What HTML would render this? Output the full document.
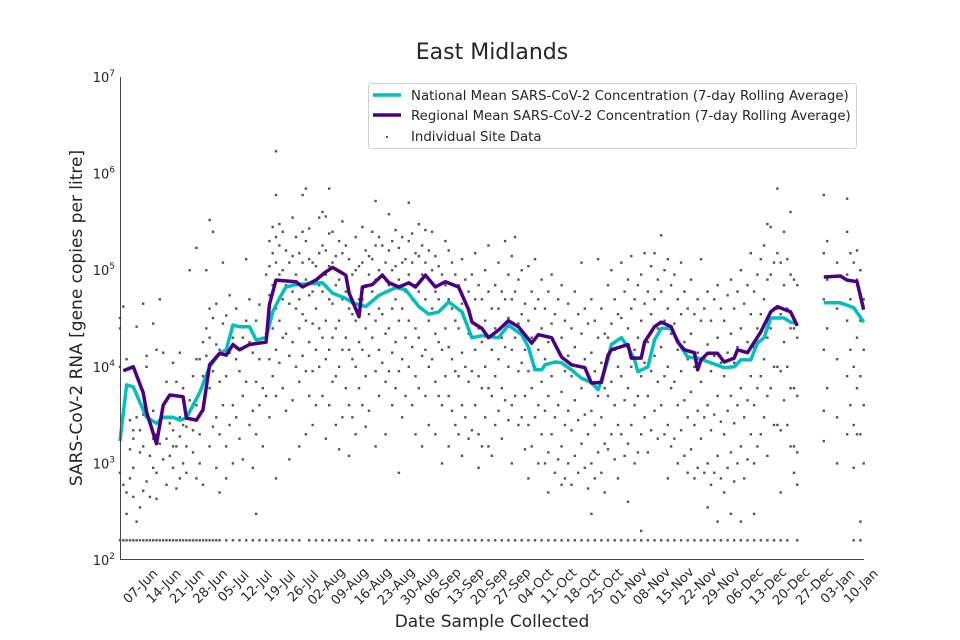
<!DOCTYPE html>
<html><head><meta charset="utf-8"><style>
html,body{margin:0;padding:0;background:#fff;}
svg{display:block;font-family:"DejaVu Sans","Liberation Sans",sans-serif;}
</style></head><body>
<svg id="chart" width="960" height="640" viewBox="0 0 960 640">
<rect width="960" height="640" fill="#fff"/>
<text x="492" y="59" font-size="22" fill="#262626" text-anchor="middle">East Midlands</text>
<g id="scatter"></g>
<g id="lines"></g>
<line x1="120.5" y1="77" x2="120.5" y2="560" stroke="#444" stroke-width="1"/>
<line x1="120" y1="559.5" x2="864" y2="559.5" stroke="#444" stroke-width="1"/>
<g id="yticks"></g>
<g id="xticks"></g>
<text transform="translate(82,318) rotate(-90)" font-size="17" fill="#262626" text-anchor="middle">SARS-CoV-2 RNA [gene copies per litre]</text>
<text x="492" y="627" font-size="17" fill="#262626" text-anchor="middle">Date Sample Collected</text>
<g>
<rect x="368.5" y="83.5" width="488" height="65" rx="3" fill="#fff" fill-opacity="0.85" stroke="#d0d0d0"/>
<line x1="373" y1="95" x2="401" y2="95" stroke="#00bfbf" stroke-width="3.5"/>
<text x="411" y="100" font-size="13.3" fill="#262626">National Mean SARS-CoV-2 Concentration (7-day Rolling Average)</text>
<line x1="373" y1="115" x2="401" y2="115" stroke="#4b0082" stroke-width="3.5"/>
<text x="411" y="120" font-size="13.3" fill="#262626">Regional Mean SARS-CoV-2 Concentration (7-day Rolling Average)</text>
<rect x="386" y="136" width="2" height="2" fill="#555"/>
<text x="411" y="141" font-size="13.3" fill="#262626">Individual Site Data</text>
</g>
</svg>
<script>
// day index 0 = 31-May
const xTickLabels = ["07-Jun","14-Jun","21-Jun","28-Jun","05-Jul","12-Jul","19-Jul","26-Jul","02-Aug","09-Aug","16-Aug","23-Aug","30-Aug","06-Sep","13-Sep","20-Sep","27-Sep","04-Oct","11-Oct","18-Oct","25-Oct","01-Nov","08-Nov","15-Nov","22-Nov","29-Nov","06-Dec","13-Dec","20-Dec","27-Dec","03-Jan","10-Jan"];
const yTickExps = [2,3,4,5,6,7];
const regionalDays = [1,4,7,8,11,13,15,19,20,23,25,27,30,32,34,36,39,44,45,47,53,55,59,62,64,68,69,72,73,76,79,81,84,87,89,92,95,98,102,105,106,109,111,114,117,120,124,126,130,133,136,140,142,145,147,148,153,154,157,158,161,163,166,168,170,173,174,175,177,180,182,185,186,189,193,196,198,202,204,208,212,217,219,222,224];
const regionalVals = [9100,10000,5400,3400,1600,4000,5100,4900,2950,2800,3600,10500,13800,13200,17000,15000,17000,18000,44000,79000,76000,67000,79000,96000,107000,89000,58000,33000,67000,71000,89000,74000,67000,74000,67000,89000,67000,76000,67000,39000,29000,25000,20000,24000,30000,26000,17600,21500,20000,12600,10500,9800,6800,6900,13200,15000,17000,12300,12300,18000,26000,29000,26000,18000,15000,14000,9300,11800,13800,13800,11200,12300,15000,14000,23000,37000,42000,37000,26500,null,85000,87000,79000,76000,39000];
const nationalDays = [0,2,4,6,8,11,13,16,18,20,22,24,27,30,32,34,36,39,41,44,46,48,50,53,61,64,68,70,74,78,83,86,90,93,96,99,103,106,109,114,117,121,123,125,127,128,131,133,136,139,142,144,147,148,151,153,155,156,159,161,163,166,169,171,174,178,182,185,187,190,192,194,196,200,202,204,208,212,217,221,224];
const nationalVals = [1700,6500,6200,4300,3000,2600,3000,3000,2800,2950,4000,5400,10000,13800,15000,27000,26000,26000,19000,20000,37000,51000,67000,71000,74000,58000,51000,46000,42000,55000,66000,63000,42000,35000,37000,47000,37000,20000,21000,20000,27000,21500,16000,9300,9300,10500,11200,11000,9300,7600,6900,5800,11800,17000,20000,16000,11800,8900,10000,19000,25000,25000,16000,12600,12300,11000,9800,10000,11800,11800,17600,20000,32000,32000,29000,28000,null,46000,46000,41000,29000];
const siteData = [[0,3.2e4,2.5e4,800,1e4],[1,4.2e4,600],[2,1.2e4,300,500],[3,2.8e3,1.4e3,700],[4,1.8e3,450,900,2.2e3],[5,2.6e4,250,3e3],[6,2.2e3,350,1.3e3],[7,1.5e3,520,3.2e3,4.5e4],[8,1.3e4,1e4,650],[9,2.7e3,1.2e3,450],[10,2.8e4,1.8e3,900,3.5e3],[11,1.5e4,800,2e3,430],[12,5e4,1.6e3,2.5e3],[13,1.4e4,3e3,1.1e3],[14,4.5e3,1.8e3,600,7e3],[15,2.6e3,1.2e3,5e3],[16,1.1e4,2.2e3,900,1.5e3],[17,7e3,1.5e3,550],[18,3e3,1.9e3,1.4e4,700],[19,6e3,1e3,2.5e3],[20,2.4e3,1.5e3,800],[21,1e5,4.5e3,3.5e3],[22,8e3,2.2e3,1.3e3],[23,1.7e5,1.2e4,700,4e3],[24,1.2e4,2e3,1e3],[25,1.8e4,3.5e3,8e3,600],[26,1e5,2.5e4,1.3e4],[27,3.3e5,4e4,2e4,6e3,1.5e3],[28,2.5e5,3.2e4,9e3,2.4e3],[29,4.5e4,1.7e4,3e3,900],[30,1.5e4,7e3,2e3,500],[31,1.2e5,2.8e4,4e3],[32,3.4e4,8e3,1.5e3,700],[33,5.5e4,1.4e4,2.5e3],[34,2e4,4e3,1e3],[35,4e4,1.2e4,3e3],[36,2.6e4,9e3,1.8e3],[37,2e4,5e3,1.1e3],[38,1.3e5,3e4,7e3],[39,5e4,1.8e4,2.5e3],[40,1.4e4,3.5e3,900],[41,3e4,7e3,2e3,300],[42,4.4e4,1.2e4,4e3],[43,2e4,6e3,1.5e3],[44,9e4,2.2e4,5e3],[45,2e5,1.1e5,5.5e4,3e4,1.2e4,3e3],[46,2.8e5,1.5e5,7e4,2.5e4,8e3],[47,1.7e6,6e5,2.2e5,1.2e5,4e4,1.5e4,5e3,700],[48,3e5,1.8e5,9e4,3e4,1.1e4],[49,2.5e5,1e5,5e4,2e4,6e3],[50,1.6e5,7e4,2.2e4,3.5e3],[51,1.2e5,4.5e4,1.3e4,1.1e3],[52,3.5e5,1.4e5,6e4,1.8e4,4.5e3],[53,2.2e5,9e4,4e4,1e4],[54,1.5e5,5e4,2.5e4,7e3,1.5e3],[55,6e5,2.5e5,1.2e5,3.5e4,1.3e4],[56,7e5,2e5,8e4,3e4,9e3,2e3],[57,2.7e5,1.3e5,5.5e4,1.8e4,5e3],[58,1.2e5,6e4,2.8e4,9e3,2.5e3],[59,1.1e5,4e4,1.5e4,4e3],[60,3.5e5,1.5e5,7e4,2.5e4,1e4],[61,4e5,1.8e5,6e4,2e4,5e3],[62,3.6e5,1.6e5,9e4,3e4,1.2e4,1.8e3],[63,7e5,2.4e5,1.1e5,5e4,1.5e4,4e3],[64,2.5e5,1.2e5,4.5e4,2e4,7e3],[65,1.4e5,7e4,2.5e4,8e3,2.5e3],[66,2e5,8e4,3e4,1e4,1.4e3],[67,3.2e5,1.5e5,5e4,1.5e4,3e3],[68,1.8e5,6e4,2e4,6e3],[69,1.3e5,4e4,1.5e4,4e3,1.2e3],[70,9e4,3.5e4,1.2e4,3e3],[71,2.2e5,1e5,3e4,1e4,2e3],[72,1.1e5,5e4,1.8e4,6e3],[73,2.8e5,1.2e5,5e4,1.5e4,4e3],[74,1.6e5,7e4,2.5e4,8e3,2.4e3],[75,1.4e5,9e4,3.5e4,1.3e4,3.5e3],[76,2.5e5,1.3e5,6e4,2e4],[77,5.2e5,1.8e5,8e4,3e4,9e3,1.5e3],[78,2.2e5,1e5,4e4,1.5e4,5e3],[79,1.8e5,9e4,3.5e4,1.1e4],[80,1.2e5,6e4,2.2e4,7e3,2e3],[81,3.8e5,1.6e5,7e4,2.5e4,9e3],[82,2e5,1e5,4e4,1.4e4,4e3],[83,2.6e5,1.1e5,5e4,1.8e4,6e3],[84,1.7e5,8e4,3e4,9e3,800],[85,2.2e5,1.2e5,4e4,1.2e4,3e3],[86,1.3e5,6e4,2e4,5e3],[87,5e5,2e5,9e4,3e4,1e4],[88,2.4e5,1.2e5,5e4,1.6e4,4e3],[89,1.5e5,7e4,2.5e4,8e3,2e3],[90,3e5,1.4e5,6e4,2e4,6e3],[91,1.8e5,9e4,4e4,1.3e4,1.5e3],[92,2.6e5,1.2e5,5e4,1.5e4,5e3],[93,1.6e5,8e4,3e4,1e4,2.5e3],[94,2.5e5,1e5,4e4,1.2e4],[95,1.4e5,6e4,2.2e4,7e3,2e3],[96,1.1e5,5e4,1.8e4,5e3],[97,9e4,4e4,1.5e4,4e3,1e3],[98,2e5,7e4,2.5e4,8e3],[99,1.6e5,5e4,1.6e4,5e3,1.5e3],[100,1.2e5,4e4,1.2e4,3.5e3],[101,9e4,3e4,9e3,2.5e3],[102,7e4,2.5e4,8e3,2e3],[103,1.3e5,4.5e4,1.4e4,4e3,1.2e3],[104,8e4,3e4,1e4,3e3],[105,6e4,2.2e4,7e3,1.8e3],[106,9e4,3e4,9e3,2.2e3],[107,1.5e5,5e4,1.5e4,4e3],[108,7e4,2.5e4,8e3,2e3,900],[109,5e4,1.8e4,6e3,1.5e3],[110,1e5,3e4,1e4,3e3],[111,1.8e5,6e4,2e4,6e3,1.5e3],[112,4e4,1.5e4,5e3,1.2e3],[113,7e4,2.5e4,8e3,2.5e3],[114,1.2e5,4e4,1.2e4,3.5e3],[115,6e4,2e4,6e3,1.8e3],[116,2e5,5e4,1.6e4,4.5e3],[117,9e4,3.2e4,1e4,2.8e3],[118,1.4e5,5e4,1.5e4,4e3,1e3],[119,2.2e5,6e4,2e4,5e3],[120,8e4,2.8e4,9e3,2.5e3],[121,1e5,3.5e4,1.1e4,3e3],[122,4.5e4,1.5e4,5e3,1.4e3],[123,1.1e5,3e4,9e3,2.5e3,700],[124,6e4,2e4,6e3,1.5e3],[125,1.3e5,4e4,1e4,3e3],[126,5e4,1.5e4,4e3,1e3],[127,8e4,2.5e4,7e3,2e3],[128,4e4,1.2e4,3.5e3,1e3],[129,6e4,1.8e4,5e3,1.3e3,500],[130,9e4,2.8e4,8e3,2e3],[131,3.5e4,1.1e4,3e3,800],[132,5e4,1.5e4,4e3,1.1e3],[133,7e4,2e4,5.5e3,1.5e3,600],[134,3e4,9e3,2.5e3,700],[135,4.5e4,1.3e4,3.5e3,1e3],[136,2.5e4,8e3,2.2e3,600],[137,6e4,1.6e4,4.5e3,1.2e3],[138,3.5e4,1e4,2.8e3,800],[139,1.2e5,2.2e4,6e3,1.6e3],[140,4e4,1.2e4,3.2e3,900],[141,2.8e4,8e3,2e3,550],[142,5e4,1.4e4,3.5e3,1e3,300],[143,3e4,9e3,2.5e3,700],[144,1.3e5,2e4,5e3,1.3e3],[145,4e4,1.1e4,3e3,800],[146,2.2e4,6e3,1.6e3,500],[147,7e4,2e4,5e3,1.4e3],[148,1e5,2.8e4,7e3,2e3],[149,5e4,1.5e4,4e3,1.1e3],[150,3.5e4,1e4,2.5e3,700],[151,1.2e5,3.2e4,8e3,2e3],[152,6e4,1.8e4,4.5e3,1.2e3],[153,8e4,2.5e4,6e3,1.6e3,400],[154,1.4e5,4e4,1e4,2.5e3],[155,5e4,1.5e4,4e3,1e3],[156,7e4,2e4,5e3,1.3e3],[157,9e4,3e4,8e3,2e3,200],[158,1.5e5,4.5e4,1.1e4,3e3],[159,6e4,1.8e4,5e3,1.3e3],[160,1.1e5,3.5e4,9e3,2.2e3],[161,1.5e5,5e4,1.3e4,3.5e3],[162,8e4,2.5e4,7e3,1.8e3],[163,2.3e5,6e4,1.6e4,4e3],[164,1e5,3e4,8e3,2e3],[165,1.3e5,4e4,1e4,2.5e3,700],[166,7e4,2.2e4,6e3,1.5e3],[167,9e4,2.8e4,7e3,1.8e3],[168,5e4,1.5e4,4e3,1e3],[169,1.2e5,3.5e4,9e3,2.2e3],[170,6e4,1.8e4,4.5e3,1.2e3],[171,4e4,1.2e4,3e3,800],[172,8e4,2.2e4,5.5e3,1.4e3],[173,3.5e4,1e4,2.5e3,700],[174,5e4,1.4e4,3.5e3,900],[175,1.3e5,3e4,7e3,1.8e3],[176,4e4,1.2e4,3e3,800],[177,6e4,1.7e4,4e3,1e3,350],[178,3e4,9e3,2.2e3,600],[179,5e4,1.3e4,3.2e3,800],[180,7e4,2e4,5e3,1.2e3,250],[181,4e4,1.1e4,2.7e3,700],[182,3e4,8e3,2e3,500],[183,5.5e4,1.4e4,3.5e3,900],[184,8e4,2.2e4,5e3,1.3e3,300],[185,4e4,1.1e4,2.6e3,650],[186,6e4,1.6e4,4e3,1e3],[187,1e5,2.5e4,6e3,1.5e3,250],[188,4.5e4,1.2e4,3e3,700],[189,7e4,1.8e4,4.5e3,1.1e3],[190,1.5e5,3.5e4,8e3,2e3],[191,6e4,1.6e4,4e3,1e3,300],[192,9e4,2.5e4,6e3,1.5e3],[193,1.3e5,3.5e4,8e3,2e3],[194,1.8e5,5e4,1.2e4,3e3],[195,3e5,8e4,2e4,5e3,1.2e3],[196,2.8e5,9e4,2.5e4,6e3],[197,1.2e5,4e4,1e4,2.5e3],[198,7e5,1.5e5,4e4,1e4,2.5e3],[199,1.2e5,3.5e4,9e3,2.2e3,500],[200,2.5e5,7e4,1.8e4,4.5e3],[201,1.3e5,4e4,1e4,2.5e3],[202,4e5,9e4,2.5e4,6e3,1.5e3],[203,8e4,2.5e4,6e3,1.5e3,800],[204,7e4,2e4,5e3,1.3e3,600],[212,6e5,1.5e5,5e4,1.5e4,3.5e3,1.7e3],[213,2e5,8e4,2.5e4,6e3],[216,1.2e5,4e4,1.2e4,3e3,1e3],[219,5.5e5,2.5e5,9e4,3e4,8e3,2e3],[220,1.5e5,5e4,1.5e4,4e3],[221,1.2e5,4e4,1e4,2.5e3,900],[222,1.6e5,8e4,2e4,6e3,2e3],[223,1e5,3e4,8e3,2e3,250],[224,5e4,1.5e4,4e3,1e3]];
const lodDays = [0,1,2,3,4,5,6,7,8,9,10,11,12,13,14,15,16,17,18,19,20,21,22,23,24,25,26,27,28,29,30,32,34,36,38,40,42,44,46,48,50,52,54,57,59,61,63,65,67,69,72,74,76,80,82,84,86,88,90,93,95,97,99,101,103,105,107,109,111,113,115,117,119,121,123,125,127,129,131,133,135,137,139,141,143,145,147,149,151,153,155,157,159,161,163,165,167,169,171,173,175,177,179,181,183,185,187,189,191,193,195,197,199,201,204,221,223];
const lodValue = 160;

const NS = "http://www.w3.org/2000/svg";
const X0 = 120, DAYPX = 3.32, YBASE = 560, DEC = 96.6;
function xScale(d){ return X0 + d*DAYPX; }
function yScale(v){ return YBASE - (Math.log10(v) - 2)*DEC; }

const sg = document.getElementById('scatter');
function dot(d, v){
  const r = document.createElementNS(NS,'rect');
  r.setAttribute('x', (xScale(d)-1.2).toFixed(1));
  r.setAttribute('y', (yScale(v)-1.2).toFixed(1));
  r.setAttribute('width', 2.4); r.setAttribute('height', 2.4);
  r.setAttribute('fill', '#555');
  
  
  sg.appendChild(r);
}
siteData.forEach(row => { for (let i=1;i<row.length;i++) dot(row[0], row[i]); });
lodDays.forEach(d => dot(d, lodValue));

const lg = document.getElementById('lines');
function drawLine(days, vals, color, name){
  let dstr = "", pen = false;
  for (let i=0;i<days.length;i++){
    if (vals[i] === null){ pen = false; continue; }
    dstr += (pen ? "L" : "M") + xScale(days[i]).toFixed(1) + "," + yScale(vals[i]).toFixed(1);
    pen = true;
  }
  const p = document.createElementNS(NS,'path');
  p.setAttribute('d', dstr);
  p.setAttribute('fill','none');
  p.setAttribute('stroke', color);
  p.setAttribute('stroke-width', 3.5);
  p.setAttribute('stroke-linejoin','round');
  
  
  lg.appendChild(p);
}
drawLine(nationalDays, nationalVals, '#00bfbf', 'national-mean-line');
drawLine(regionalDays, regionalVals, '#4b0082', 'regional-mean-line');

const yt = document.getElementById('yticks');
yTickExps.forEach(e => {
  const t = document.createElementNS(NS,'text');
  t.setAttribute('x', 115);
  t.setAttribute('y', (yScale(Math.pow(10,e)) + 5).toFixed(1));
  t.setAttribute('font-size', 13);
  t.setAttribute('fill', '#262626');
  t.setAttribute('text-anchor', 'end');
  
  
  const a = document.createElementNS(NS,'tspan'); a.textContent = '10';
  const b = document.createElementNS(NS,'tspan'); b.textContent = String(e);
  b.setAttribute('font-size', 9); b.setAttribute('dy', -6);
  t.appendChild(a); t.appendChild(b);
  yt.appendChild(t);
});

const xt = document.getElementById('xticks');
xTickLabels.forEach((lab, i) => {
  const x = xScale(7 + 7*i) - 3;
  const t = document.createElementNS(NS,'text');
  t.setAttribute('transform', 'translate(' + x.toFixed(1) + ',586) rotate(-45)');
  t.setAttribute('font-size', 13);
  t.setAttribute('fill', '#262626');
  t.setAttribute('text-anchor', 'middle');
  t.setAttribute('dy', '0.35em');
  
  
  t.textContent = lab;
  xt.appendChild(t);
});
</script>
</body></html>
